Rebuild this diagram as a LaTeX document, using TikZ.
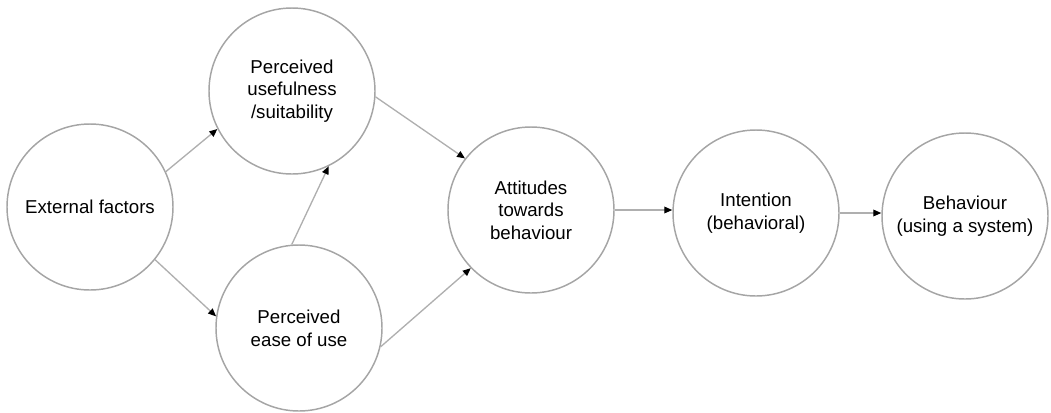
\documentclass[tikz,border=0pt]{standalone}
\usepackage{fontspec}
\setmainfont{Liberation Sans}
\usetikzlibrary{arrows.meta}

\tikzset{every picture/.style={line width=0.75pt}}
\tikzset{
  circ/.style={draw={rgb, 255:red, 165; green, 165; blue, 165 }, line width=1.1pt, circle, minimum size=124.5pt, inner sep=0pt, align=center, font=\fontsize{14}{17}\selectfont},
  link/.style={draw={rgb, 255:red, 175; green, 175; blue, 175 }, line width=1pt, -{Triangle[length=6pt,width=5pt,color=black]}}
}

\begin{document}
\begin{tikzpicture}[x=0.75pt,y=0.75pt,yscale=-1,xscale=1]
	\useasboundingbox (0,0) rectangle (1051,412);
	
	%Shape: Circle [id:ext]
	\node [circ] (ext) at (90,207) {External factors};
	%Shape: Circle [id:pu]
	\node [circ] (pu) at (292,91) {Perceived\\usefulness\\/suitability};
	%Shape: Circle [id:pe]
	\node [circ] (pe) at (299,328) {Perceived\\ease of use};
	%Shape: Circle [id:att]
	\node [circ] (att) at (531,210) {Attitudes\\towards\\behaviour};
	%Shape: Circle [id:int]
	\node [circ] (int) at (756,213) {Intention\\(behavioral)};
	%Shape: Circle [id:beh]
	\node [circ] (beh) at (965,216) {Behaviour\\(using a system)};
	
	%Straight Lines
	\draw [link] (ext.25) -- (pu.207);
	\draw [link] (ext.-39) -- (pe.172);
	\draw [link] (pe.95) -- (pu.-64);
	\draw [link] (pu.-4) -- (att.142);
	\draw [link] (pe.-13) -- (att.224);
	%Straight Lines
	\draw [link] (att.east) -- (att.east -| int.west);
	\draw [link] (int.east) -- (int.east -| beh.west);
	
\end{tikzpicture}
\end{document}
